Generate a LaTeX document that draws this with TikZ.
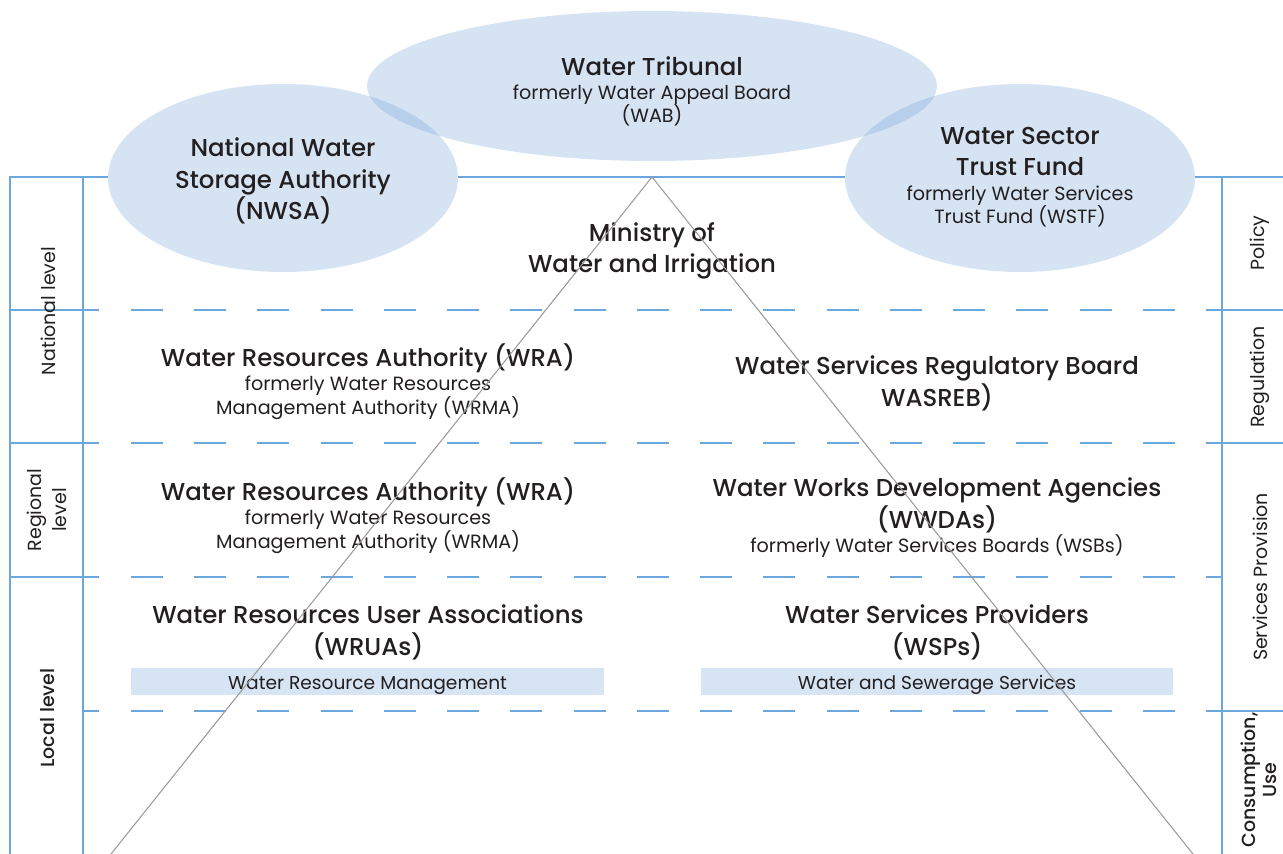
\documentclass[tikz,border=0pt]{standalone}
\usepackage{fontspec}
\setmainfont{Poppins}[BoldFont={Poppins Medium}]
\usepackage{tikz}
\usetikzlibrary{shapes.geometric}
\definecolor{rule}{HTML}{6AA7DD}
\definecolor{fog}{HTML}{D6E4F3}
\definecolor{pool}{HTML}{679BD3}
\definecolor{ink}{HTML}{231F20}
\definecolor{slope}{HTML}{9A9A9A}
\tikzset{
  frame/.style={draw=rule, line width=1pt},
  tier/.style={draw=rule, line width=1pt, dash pattern=on 0.64cm off 0.625cm},
  blob/.style={ellipse, fill=pool, fill opacity=0.27, inner sep=0pt},
  % base anchor sits on the last line
  head/.style={anchor=base, text=ink, align=center, font=\fontsize{13.9}{18.1}\selectfont\bfseries},
  sub/.style={anchor=base, text=ink, align=center, font=\fontsize{10.9}{13.4}\selectfont},
  band/.style={fill=fog, text=ink, inner sep=0pt, minimum width=9.46cm, minimum height=0.54cm,
    text height=8.6pt, text depth=0pt, font=\fontsize{10.6}{12}\selectfont},
  side/.style={rotate=90, text=ink, align=center, font=\fontsize{10.8}{14}\selectfont},
}

\begin{document}
\begin{tikzpicture}[x=0.02cm, y=-0.02cm]
  \useasboundingbox (0,0) rectangle (1283,854);
  % frame and tiers
  \draw[frame] (10,854) -- (10,177) -- (1283,177);
  \draw[frame] (83,177) -- (83,854);
  \draw[frame] (1222,177) -- (1222,854);
  \foreach \y in {310,443,577,711}
    \draw[tier] (131,\y) -- (1206,\y);
  \foreach \y in {310,443,577}
    \draw[frame] (10,\y) -- (99,\y);
  \draw[frame] (83,711) -- (99,711);
  \foreach \y in {310,443,711}
    \draw[frame] (1206,\y) -- (1283,\y);
  \draw[frame] (1206,577) -- (1222,577);

  % bodies on top
  \fill[white] (652,86) ellipse [x radius=5.7cm, y radius=1.5cm];
  \fill[white] (283,178) ellipse [x radius=3.5cm, y radius=1.88cm];
  \fill[white] (1020,178) ellipse [x radius=3.5cm, y radius=1.88cm];
  \node[blob, minimum width=11.4cm, minimum height=3cm] (tribunal) at (652,86) {};
  \node[blob, minimum width=7cm, minimum height=3.76cm] (nwsa) at (283,178) {};
  \node[blob, minimum width=7cm, minimum height=3.76cm] (wstf) at (1020,178) {};

  \node[head] (tribunal-t) at (652,76) {Water Tribunal};
  \node[sub] (tribunal-s) at (652,123) {formerly Water Appeal Board\\(WAB)};
  \node[head] (nwsa-t) at (283,220) {National Water\\Storage Authority\\(NWSA)};
  \node[head] (wstf-t) at (1020,176) {Water Sector\\Trust Fund};
  \node[sub] (wstf-s) at (1020,224) {formerly Water Services\\Trust Fund (WSTF)};
  \node[head] (ministry) at (652,273) {Ministry of\\Water and Irrigation};

  \node[head] (wra-n) at (368,366) {Water Resources Authority (WRA)};
  \node[sub] (wra-ns) at (368,414) {formerly Water Resources\\Management Authority (WRMA)};
  \node[head] (wasreb) at (937,406) {Water Services Regulatory Board\\WASREB)};

  \node[head] (wra-r) at (368,500) {Water Resources Authority (WRA)};
  \node[sub] (wra-rs) at (368,548) {formerly Water Resources\\Management Authority (WRMA)};
  \node[head] (wwda) at (937,528) {Water Works Development Agencies\\(WWDAs)};
  \node[sub] (wwda-s) at (937,552) {formerly Water Services Boards (WSBs)};

  \node[head] (wrua) at (368,655) {Water Resources User Associations\\(WRUAs)};
  \node[head] (wsp) at (937,655) {Water Services Providers\\(WSPs)};
  \node[band] (wrm) at (367.5,681.5) {Water Resource Management};
  \node[band] (wss) at (937,681.5) {Water and Sewerage Services};

  % levels and functions
  \node[side] (national) at (48,311) {National level};
  \node[side] (regional) at (47,510) {Regional\\level};
  \node[side, font=\fontsize{10.8}{14}\selectfont\bfseries] (local) at (48,718) {Local level};
  \node[side] (policy) at (1260,243) {Policy};
  \node[side] (regulation) at (1260,377) {Regulation};
  \node[side] (provision) at (1260,577) {Services Provision};
  \node[side, font=\fontsize{10.8}{12}\selectfont\bfseries] (use) at (1259,780) {Consumption,\\Use};

  % pyramid
  \coordinate (apex) at (652,177);
  \coordinate (foot-l) at (111,854);
  \coordinate (foot-r) at (1193,854);
  \draw[slope, line width=0.6pt] (foot-l) -- (apex) -- (foot-r);
\end{tikzpicture}
\end{document}
